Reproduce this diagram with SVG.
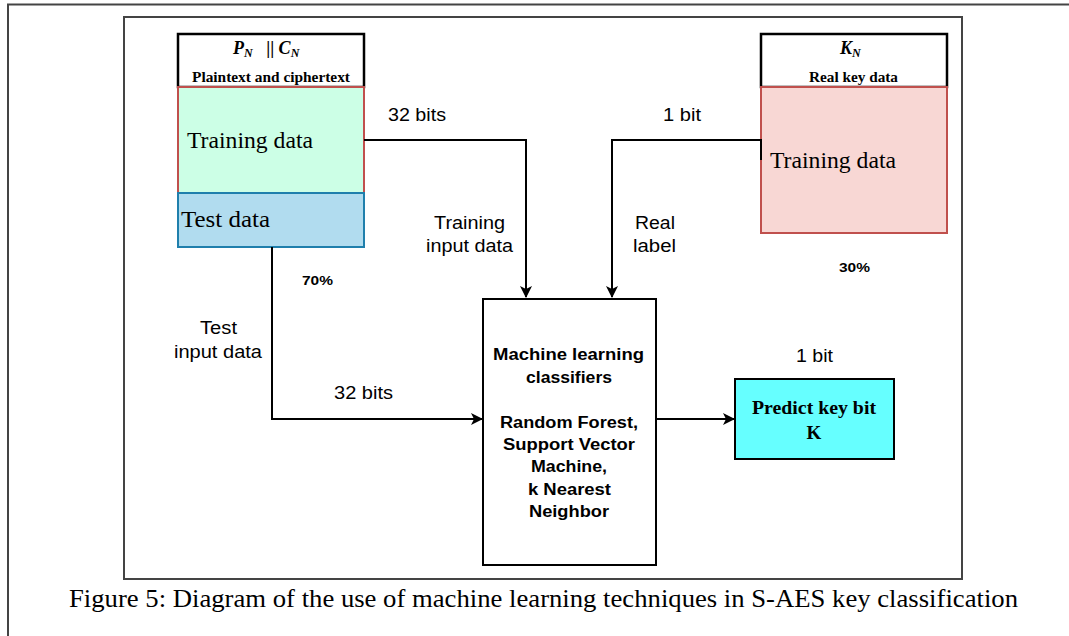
<svg xmlns="http://www.w3.org/2000/svg" width="1069" height="636" viewBox="0 0 1069 636">
  <defs>
    <marker id="arrow" markerWidth="12" markerHeight="12" refX="11" refY="6" orient="auto" markerUnits="userSpaceOnUse">
      <path d="M0,0 L12,6 L0,12 L3,6 Z" fill="#000"/>
    </marker>
  </defs>
  <style>
    .frame { fill: none; stroke: #444; stroke-width: 2; }
    .hdr { fill: #fff; stroke: #000; stroke-width: 2.5; }
    .serif { font-family: "Liberation Serif", "Times New Roman", serif; fill: #000; }
    .sans { font-family: "Liberation Sans", Arial, sans-serif; fill: #000; }
    .big { font-size: 24px; }
    .lbl { font-size: 17.5px; }
    .bold { font-weight: bold; }
    .conn { fill: none; stroke: #000; stroke-width: 2; }
  </style>
  <rect width="1069" height="636" fill="#fff"/>
  <!-- page frames -->
  <rect class="frame" x="8" y="4.5" width="1080" height="650"/>
  <rect class="frame" x="124" y="17" width="838" height="562"/>

  <!-- plaintext/ciphertext column -->
  <g id="pc-data">
    <rect class="hdr" x="178" y="34" width="186" height="53"/>
    <text class="serif bold" x="233" y="54" font-size="18" font-style="italic">P<tspan font-size="12" dy="3">N</tspan><tspan dy="-3" font-style="normal" xml:space="preserve">   || </tspan>C<tspan font-size="12" dy="3">N</tspan></text>
    <text class="serif bold" x="192" y="82" font-size="14" textLength="158" lengthAdjust="spacingAndGlyphs">Plaintext and ciphertext</text>
    <rect x="178" y="87" width="186" height="106" fill="#ccffe6" stroke="#c0504d" stroke-width="2"/>
    <text class="serif big" x="187" y="148" textLength="126" lengthAdjust="spacingAndGlyphs">Training data</text>
    <rect x="178" y="193" width="186" height="54" fill="#b1dcef" stroke="#1f7fac" stroke-width="2"/>
    <text class="serif big" x="181" y="227" textLength="89" lengthAdjust="spacingAndGlyphs">Test data</text>
  </g>

  <!-- real key column -->
  <g id="key-data">
    <rect class="hdr" x="761" y="34" width="186" height="53"/>
    <text class="serif bold" x="840" y="54" font-size="18" font-style="italic">K<tspan font-size="12" dy="3">N</tspan></text>
    <text class="serif bold" x="809" y="82" font-size="14" textLength="89" lengthAdjust="spacingAndGlyphs">Real key data</text>
    <rect x="761" y="87" width="186" height="146" fill="#f8d7d4" stroke="#c0504d" stroke-width="2"/>
    <text class="serif big" x="770" y="168" textLength="126" lengthAdjust="spacingAndGlyphs">Training data</text>
  </g>

  <!-- classifier -->
  <g id="classifier">
    <rect x="483" y="299" width="173" height="266" fill="#fff" stroke="#000" stroke-width="2"/>
    <g class="sans bold" font-size="16">
      <text x="493" y="360" textLength="151" lengthAdjust="spacingAndGlyphs">Machine learning</text>
      <text x="526" y="383" textLength="86" lengthAdjust="spacingAndGlyphs">classifiers</text>
      <text x="500" y="428" textLength="138" lengthAdjust="spacingAndGlyphs">Random Forest,</text>
      <text x="503" y="450" textLength="132" lengthAdjust="spacingAndGlyphs">Support Vector</text>
      <text x="531" y="472" textLength="76" lengthAdjust="spacingAndGlyphs">Machine,</text>
      <text x="528" y="495" textLength="83" lengthAdjust="spacingAndGlyphs">k Nearest</text>
      <text x="529" y="517" textLength="80" lengthAdjust="spacingAndGlyphs">Neighbor</text>
    </g>
  </g>

  <!-- prediction -->
  <g id="prediction">
    <rect x="735" y="379" width="159" height="80" fill="#66ffff" stroke="#000" stroke-width="2"/>
    <text class="serif bold" x="752" y="414" font-size="19" textLength="124" lengthAdjust="spacingAndGlyphs">Predict key bit</text>
    <text class="serif bold" x="814" y="439" font-size="19" text-anchor="middle">K</text>
  </g>

  <!-- connectors -->
  <g id="connectors">
    <path class="conn" d="M364,140 H526 V297" marker-end="url(#arrow)"/>
    <path class="conn" d="M761,160 V140 H612 V297" marker-end="url(#arrow)"/>
    <path class="conn" d="M272,247 V419 H482" marker-end="url(#arrow)"/>
    <path class="conn" d="M656,419 H734" marker-end="url(#arrow)"/>
  </g>

  <!-- connector labels -->
  <g class="sans lbl">
    <text x="388" y="121" textLength="58" lengthAdjust="spacingAndGlyphs">32 bits</text>
    <text x="663" y="121" textLength="38" lengthAdjust="spacingAndGlyphs">1 bit</text>
    <text x="434" y="229" textLength="71" lengthAdjust="spacingAndGlyphs">Training</text>
    <text x="426" y="252" textLength="87" lengthAdjust="spacingAndGlyphs">input data</text>
    <text x="635" y="229" textLength="40" lengthAdjust="spacingAndGlyphs">Real</text>
    <text x="633" y="252" textLength="43" lengthAdjust="spacingAndGlyphs">label</text>
    <text x="200" y="334" textLength="37" lengthAdjust="spacingAndGlyphs">Test</text>
    <text x="174" y="358" textLength="88" lengthAdjust="spacingAndGlyphs">input data</text>
    <text x="334" y="399" textLength="59" lengthAdjust="spacingAndGlyphs">32 bits</text>
    <text x="796" y="362" textLength="37" lengthAdjust="spacingAndGlyphs">1 bit</text>
  </g>
  <text class="sans bold" x="302" y="285" font-size="13" textLength="31" lengthAdjust="spacingAndGlyphs">70%</text>
  <text class="sans bold" x="839" y="272" font-size="13" textLength="31" lengthAdjust="spacingAndGlyphs">30%</text>

  <text class="serif" x="69" y="607" font-size="25.5" textLength="949" lengthAdjust="spacingAndGlyphs">Figure 5: Diagram of the use of machine learning techniques in S-AES key classification</text>
</svg>
